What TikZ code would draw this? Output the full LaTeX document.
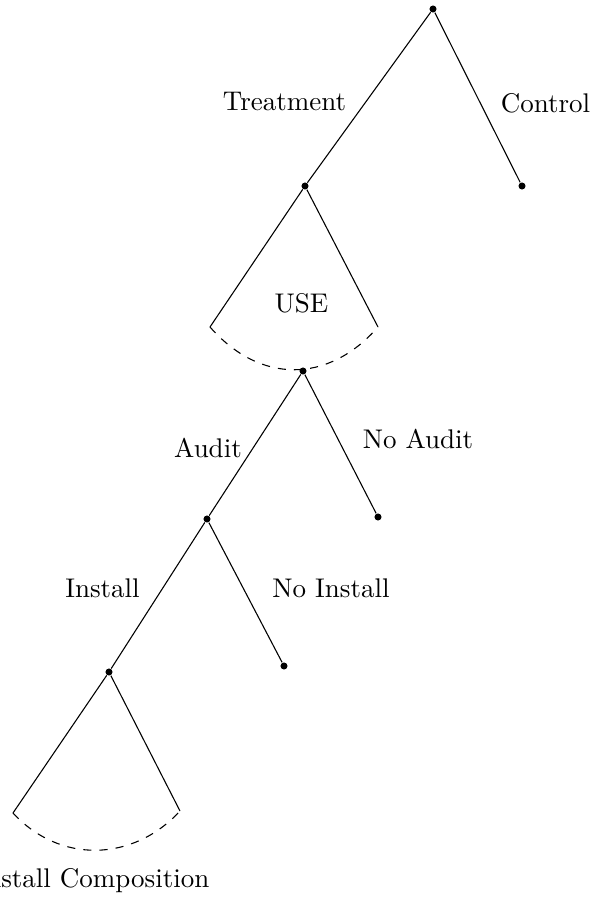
\documentclass[tikz,border=0pt]{standalone}
\begin{document}
\begin{tikzpicture}[x=0.37037pt,y=-0.37037pt,
  dot/.style={circle,fill=black,inner sep=0pt,minimum size=2.6pt},
  lbl/.style={anchor=base,inner sep=0pt},
  branch/.style={line width=0.4pt},
  cut/.style={dashed,line width=0.4pt}]
\useasboundingbox (0,0) rectangle (597,902);
% decision nodes
\node[dot] (root) at (433,9) {};
\node[dot] (treat) at (305,186) {};
\node[dot] (ctrl) at (522,186) {};
\node[dot] (use) at (303,371) {};
\node[dot] (audit) at (207,519) {};
\node[dot] (noaudit) at (378,517) {};
\node[dot] (inst) at (109,672) {};
\node[dot] (noinst) at (284,666) {};
% fan end points
\coordinate (ul) at (210,327);
\coordinate (ur) at (378,327);
\coordinate (il) at (13,813);
\coordinate (ir) at (180,811);
% branches
\draw[branch] (root) -- (treat);
\draw[branch] (root) -- (ctrl);
\draw[branch] (treat) -- (ul);
\draw[branch] (treat) -- (ur);
\draw[cut] (ul) .. controls (260,384) and (328,384) .. (ur);
\draw[branch] (use) -- (audit);
\draw[branch] (use) -- (noaudit);
\draw[branch] (audit) -- (inst);
\draw[branch] (audit) -- (noinst);
\draw[branch] (inst) -- (il);
\draw[branch] (inst) -- (ir);
\draw[cut] (il) .. controls (60,864) and (133,862) .. (ir);
% labels
\node[lbl] (lt) at (284.5,111) {Treatment};
\node[lbl] (lc) at (545.5,113) {Control};
\node[lbl] (lu) at (301.5,313) {USE};
\node[lbl] (la) at (208,457) {Audit};
\node[lbl] (lna) at (418,448) {No Audit};
\node[lbl] (li) at (102.5,597) {Install};
\node[lbl] (lni) at (331,597) {No Install};
\node[lbl] (lic) at (93,887) {Install Composition};
\end{tikzpicture}
\end{document}
